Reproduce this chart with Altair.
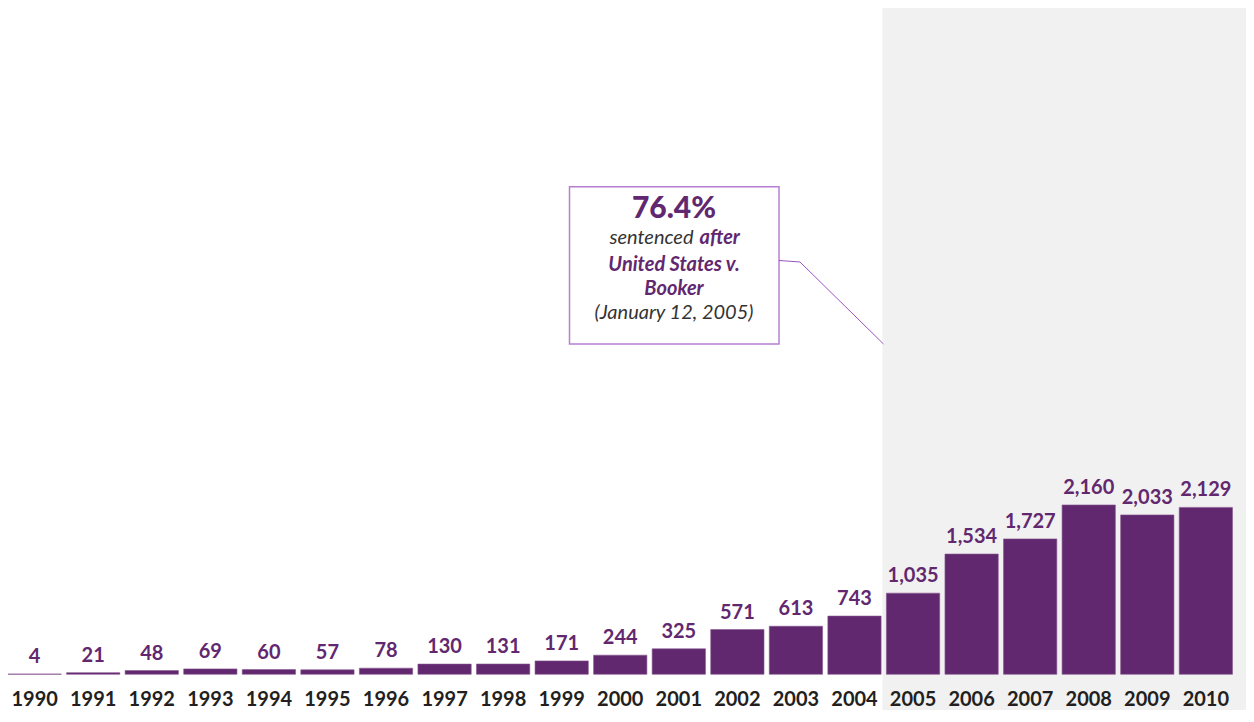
import altair as alt
import pandas as pd

# ---- data ----
years = [str(y) for y in range(1990, 2011)]
counts = [4, 21, 48, 69, 60, 57, 78, 130, 131, 171, 244, 325, 571, 613, 743,
          1035, 1534, 1727, 2160, 2033, 2129]
count_labels = [f"{c:,}" for c in counts]

shade_start = ["2005"]
shade_end = ["2010"]

headline = "76.4%"
line1a = "sentenced"
line1b = "after"
line2 = "United States v."
line3 = "Booker"
line4 = "(January 12, 2005)"

# ---- styles ----
PURPLE = "#62286f"
DARK = "#231f20"
GREY_BAND = "#f1f1f1"
BOX_STROKE = "#b77fd2"
CONN = "#9b52c4"
FONT = "Lato"

W = 1224.5
H = 670.3
YMAX = 8550

df = pd.DataFrame({"year": years, "count": counts, "label": count_labels})

xscale = alt.Scale(paddingInner=0.09, paddingOuter=0)
yscale = alt.Scale(domain=[0, YMAX])
xaxis = alt.Axis(title=None, labelFont=FONT, labelFontSize=20,
                 labelFontWeight="bold", labelColor=DARK, domain=False,
                 ticks=False, labelPadding=15, zindex=1, labelAngle=0)

shade = alt.Chart(pd.DataFrame({"start": shade_start, "end": shade_end,
                                "top": [YMAX], "bottom": [0]})).mark_rect(
    color=GREY_BAND, xOffset=-4, x2Offset=40, yOffset=2, y2Offset=80
).encode(
    x=alt.X("start:N", bandPosition=0, scale=xscale, sort=years, axis=xaxis),
    x2=alt.X2("end:N", bandPosition=1),
    y=alt.Y("top:Q", scale=yscale, axis=None),
    y2="bottom:Q",
)

bars = alt.Chart(df).mark_bar(color=PURPLE, stroke="#86568f", strokeWidth=0.6).encode(
    x=alt.X("year:N", scale=xscale, sort=years, axis=xaxis),
    y=alt.Y("count:Q", scale=yscale, axis=None),
)

labels = alt.Chart(df).mark_text(
    font=FONT, fontSize=20, fontWeight="bold", color=PURPLE,
    baseline="alphabetic", dy=-11
).encode(
    x=alt.X("year:N", scale=xscale, sort=years, axis=xaxis),
    y=alt.Y("count:Q", scale=yscale, axis=None),
    text="label:N",
)


def one(t=""):
    return alt.Chart(pd.DataFrame({"t": [t]}))


box = one().mark_rect(fill="white", stroke=BOX_STROKE, strokeWidth=1.5).encode(
    x=alt.value(561.5), x2=alt.value(771), y=alt.value(182.7), y2=alt.value(340)
)
conn1 = one().mark_rule(color=CONN, strokeWidth=1).encode(
    x=alt.value(771), x2=alt.value(792), y=alt.value(256.5), y2=alt.value(258)
)
conn2 = one().mark_rule(color=CONN, strokeWidth=1).encode(
    x=alt.value(792), x2=alt.value(875.5), y=alt.value(258), y2=alt.value(340)
)


def txt(t, x, y, size=20, weight="normal", style="italic", color=PURPLE, align="center"):
    return one(t).mark_text(
        font=FONT, fontSize=size, fontWeight=weight, fontStyle=style,
        color=color, align=align, baseline="alphabetic"
    ).encode(x=alt.value(x), y=alt.value(y), text="t:N")


t0 = txt(headline, 666, 214.5, size=30, weight=900, style="normal")
t1a = txt(line1a, 685.5, 240.3, color="#333333", align="right")
t1b = txt(line1b, 691.5, 240.3, weight="bold", align="left")
t2 = txt(line2, 666, 266.7, weight="bold")
t3 = txt(line3, 666, 291, weight="bold")
t4 = txt(line4, 666, 315.5, color="#333333")

chart = alt.layer(
    shade, bars, labels, box, conn1, conn2, t0, t1a, t1b, t2, t3, t4
).properties(
    width=W, height=H, background="white",
    padding={"top": -4, "left": 0, "right": 13.5, "bottom": 35.5},
    autosize=alt.AutoSizeParams(type="none"),
).configure_view(stroke=None)

chart.save("out.html", embed_options={"renderer": "svg", "actions": False})
